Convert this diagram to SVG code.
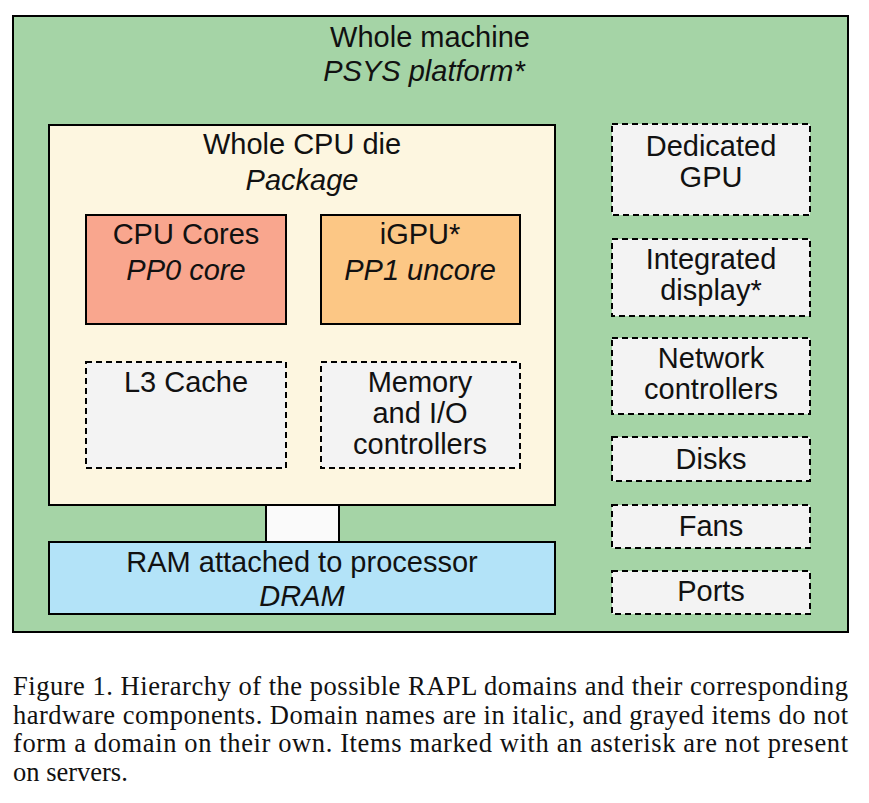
<svg xmlns="http://www.w3.org/2000/svg" width="869" height="803" viewBox="0 0 869 803">
<style>
.b{stroke:#000;stroke-width:2}
.d{fill:#f3f3f3;stroke:#000;stroke-width:2;stroke-dasharray:6,4}
text{font-family:"Liberation Sans",Arial,sans-serif;font-size:29px;fill:#111;text-anchor:middle}
.i{font-style:italic}
.c{font-family:"Liberation Serif","Times New Roman",serif;font-size:26.5px;text-anchor:start}
</style>
<rect width="869" height="803" fill="#fff"/>
<g id="machine"><rect x="13" y="16" width="835" height="616" fill="#a5d4a6" class="b"/>
<text x="430" y="47">Whole machine</text><text x="424" y="81" class="i">PSYS platform*</text></g>
<g id="connectors"><rect x="266" y="505" width="73" height="37" fill="#fafafa" class="b"/></g>
<g id="package"><rect x="49" y="125" width="506" height="380" fill="#fdf6e0" class="b"/>
<text x="302" y="154">Whole CPU die</text><text x="302" y="190" class="i">Package</text></g>
<g id="cores"><rect x="86" y="215" width="200" height="109" fill="#f9a68e" class="b"/>
<text x="186" y="244">CPU Cores</text><text x="186" y="280" class="i">PP0 core</text></g>
<g id="igpu"><rect x="321" y="215" width="199" height="109" fill="#fcc785" class="b"/>
<text x="420" y="244">iGPU*</text><text x="420" y="280" class="i">PP1 uncore</text></g>
<g id="l3"><rect x="86" y="362" width="200" height="106" class="d"/><text x="186" y="392">L3 Cache</text></g>
<g id="mem"><rect x="321" y="362" width="199" height="106" class="d"/>
<text x="420" y="392">Memory</text><text x="420" y="423">and I/O</text><text x="420" y="454">controllers</text></g>
<g id="ram"><rect x="49" y="542" width="506" height="72" fill="#b3e3f8" class="b"/>
<text x="302" y="572">RAM attached to processor</text><text x="302" y="606" class="i">DRAM</text></g>
<g id="dgpu"><rect x="612" y="124" width="198" height="91" class="d"/><text x="711" y="156">Dedicated</text><text x="711" y="187">GPU</text></g>
<g id="display"><rect x="612" y="239" width="198" height="77" class="d"/><text x="711" y="269">Integrated</text><text x="711" y="300">display*</text></g>
<g id="network"><rect x="612" y="338" width="198" height="76" class="d"/><text x="711" y="368">Network</text><text x="711" y="399">controllers</text></g>
<g id="disks"><rect x="612" y="437" width="198" height="44" class="d"/><text x="711" y="469">Disks</text></g>
<g id="fans"><rect x="612" y="505" width="198" height="43" class="d"/><text x="711" y="536">Fans</text></g>
<g id="ports"><rect x="612" y="571" width="198" height="43" class="d"/><text x="711" y="601">Ports</text></g>
<g id="caption">
<text class="c" x="13" y="695" textLength="835" lengthAdjust="spacing">Figure 1.  Hierarchy of the possible RAPL domains and their corresponding</text>
<text class="c" x="13" y="724" textLength="835" lengthAdjust="spacing">hardware components. Domain names are in italic, and grayed items do not</text>
<text class="c" x="13" y="752" textLength="835" lengthAdjust="spacing">form a domain on their own. Items marked with an asterisk are not present</text>
<text class="c" x="13" y="781">on servers.</text>
</g>
</svg>
